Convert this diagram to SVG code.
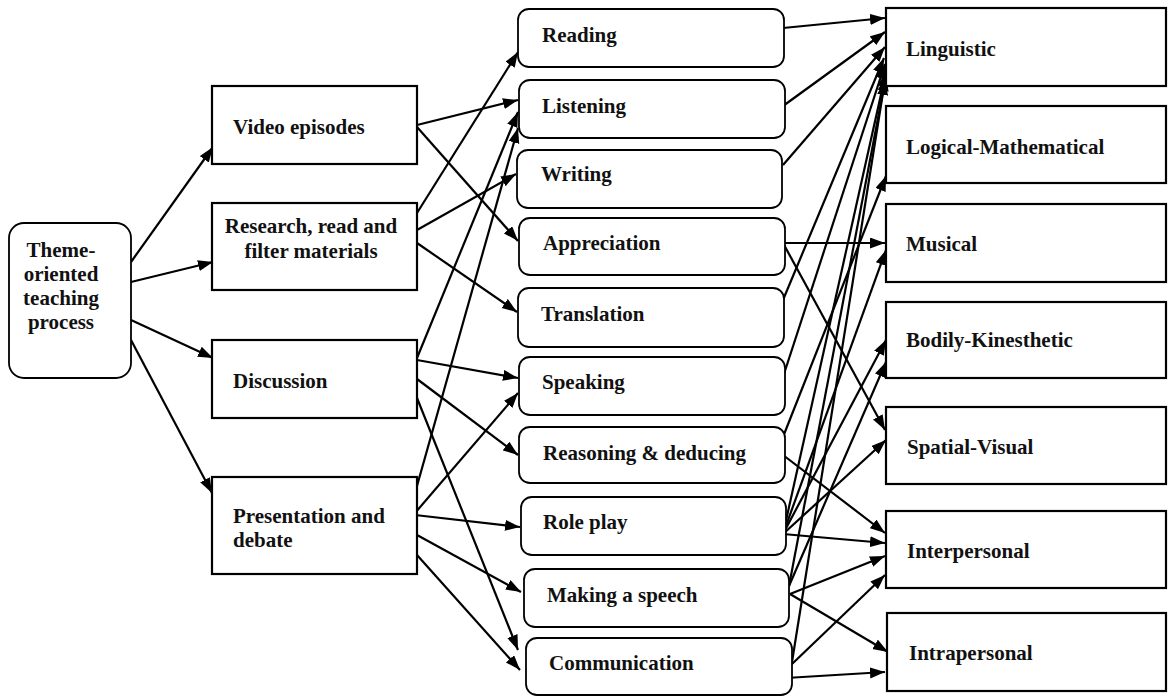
<svg xmlns="http://www.w3.org/2000/svg" width="1170" height="696" viewBox="0 0 1170 696">
<defs>
<marker id="ah" markerUnits="userSpaceOnUse" markerWidth="16" markerHeight="12" refX="15" refY="5.5" orient="auto">
<path d="M0,0 L15,5.5 L0,11 z" fill="#000"/>
</marker>
<style>
.t{font-family:"Liberation Serif","Times New Roman",serif;font-weight:bold;font-size:21px;fill:#111}
.c{text-anchor:middle}
.sq{fill:#fff;stroke:#000;stroke-width:2.2}
.rd{fill:#fff;stroke:#000;stroke-width:1.8}
.ln{stroke:#000;stroke-width:2.2;fill:none;marker-end:url(#ah)}
</style>
</defs>
<rect width="1170" height="696" fill="#fff"/>
<g id="connectors">
<line class="ln" x1="131" y1="262" x2="213" y2="147"/>
<line class="ln" x1="131" y1="282" x2="213" y2="262"/>
<line class="ln" x1="131" y1="320" x2="213" y2="358"/>
<line class="ln" x1="131" y1="340" x2="212" y2="493"/>
<line class="ln" x1="417" y1="125" x2="518" y2="100"/>
<line class="ln" x1="417" y1="127" x2="518" y2="241"/>
<line class="ln" x1="417" y1="213" x2="518" y2="52"/>
<line class="ln" x1="417" y1="230" x2="516" y2="174"/>
<line class="ln" x1="417" y1="243" x2="517" y2="312"/>
<line class="ln" x1="417" y1="358" x2="518" y2="112"/>
<line class="ln" x1="417" y1="360" x2="518" y2="378"/>
<line class="ln" x1="417" y1="379" x2="518" y2="455"/>
<line class="ln" x1="417" y1="398" x2="518" y2="650"/>
<line class="ln" x1="415" y1="493" x2="518" y2="128"/>
<line class="ln" x1="415" y1="513" x2="518" y2="393"/>
<line class="ln" x1="415" y1="515" x2="520" y2="527"/>
<line class="ln" x1="417" y1="535" x2="521" y2="592"/>
<line class="ln" x1="417" y1="555" x2="520" y2="670"/>
<line class="ln" x1="783" y1="28" x2="885" y2="18"/>
<line class="ln" x1="783" y1="106" x2="885" y2="32"/>
<line class="ln" x1="783" y1="165" x2="885" y2="47"/>
<line class="ln" x1="783" y1="243" x2="885" y2="243"/>
<line class="ln" x1="783" y1="243" x2="885" y2="430"/>
<line class="ln" x1="783" y1="300" x2="884" y2="58"/>
<line class="ln" x1="783" y1="377" x2="885" y2="64"/>
<line class="ln" x1="783" y1="437" x2="886" y2="176"/>
<line class="ln" x1="783" y1="455" x2="885" y2="533"/>
<line class="ln" x1="783" y1="534" x2="886" y2="72"/>
<line class="ln" x1="783" y1="534" x2="886" y2="250"/>
<line class="ln" x1="783" y1="534" x2="886" y2="340"/>
<line class="ln" x1="783" y1="534" x2="886" y2="440"/>
<line class="ln" x1="783" y1="534" x2="885" y2="543"/>
<line class="ln" x1="789" y1="586" x2="886" y2="76"/>
<line class="ln" x1="789" y1="586" x2="886" y2="362"/>
<line class="ln" x1="790" y1="594" x2="885" y2="556"/>
<line class="ln" x1="790" y1="594" x2="888" y2="652"/>
<line class="ln" x1="792" y1="662" x2="885" y2="80"/>
<line class="ln" x1="792" y1="664" x2="885" y2="575"/>
<line class="ln" x1="786" y1="678" x2="885" y2="672"/>
</g>
<g id="theme"><rect class="rd" x="9" y="223" width="122" height="155" rx="15"/>
<text class="t c" x="61" y="257">Theme-</text><text class="t c" x="61" y="281">oriented</text><text class="t c" x="61" y="305">teaching</text><text class="t c" x="61" y="329">process</text></g>
<g id="video"><rect class="sq" x="212" y="86" width="205" height="78"/><text class="t" x="233" y="134">Video episodes</text></g>
<g id="research"><rect class="sq" x="212" y="203" width="205" height="87"/><text class="t c" x="311" y="233">Research, read and</text><text class="t c" x="311" y="258">filter materials</text></g>
<g id="discussion"><rect class="sq" x="212" y="340" width="205" height="78"/><text class="t" x="233" y="388">Discussion</text></g>
<g id="presentation"><rect class="sq" x="212" y="477" width="205" height="97"/><text class="t" x="233" y="523">Presentation and</text><text class="t" x="233" y="547">debate</text></g>
<g id="reading"><rect class="rd" x="518" y="9" width="266" height="58" rx="11"/><text class="t" x="542" y="42">Reading</text></g>
<g id="listening"><rect class="rd" x="519" y="80" width="266" height="58" rx="11"/><text class="t" x="542" y="113">Listening</text></g>
<g id="writing"><rect class="rd" x="517" y="150" width="265" height="58" rx="11"/><text class="t" x="541" y="181">Writing</text></g>
<g id="appreciation"><rect class="rd" x="519" y="218" width="266" height="57" rx="11"/><text class="t" x="543" y="250">Appreciation</text></g>
<g id="translation"><rect class="rd" x="518" y="288" width="266" height="59" rx="11"/><text class="t" x="541" y="321">Translation</text></g>
<g id="speaking"><rect class="rd" x="519" y="357" width="266" height="58" rx="11"/><text class="t" x="542" y="389">Speaking</text></g>
<g id="reasoning"><rect class="rd" x="519" y="427" width="266" height="56" rx="11"/><text class="t" x="543" y="460">Reasoning &amp; deducing</text></g>
<g id="roleplay"><rect class="rd" x="521" y="497" width="265" height="58" rx="11"/><text class="t" x="543" y="529">Role play</text></g>
<g id="speech"><rect class="rd" x="524" y="569" width="265" height="58" rx="11"/><text class="t" x="547" y="602">Making a speech</text></g>
<g id="communication"><rect class="rd" x="526" y="638" width="266" height="57" rx="11"/><text class="t" x="549" y="670">Communication</text></g>
<g id="linguistic"><rect class="sq" x="886" y="8" width="280" height="78"/><text class="t" x="906" y="56">Linguistic</text></g>
<g id="logical"><rect class="sq" x="886" y="106" width="280" height="77"/><text class="t" x="906" y="154">Logical-Mathematical</text></g>
<g id="musical"><rect class="sq" x="886" y="204" width="280" height="78"/><text class="t" x="906" y="251">Musical</text></g>
<g id="bodily"><rect class="sq" x="886" y="302" width="280" height="76"/><text class="t" x="906" y="347">Bodily-Kinesthetic</text></g>
<g id="spatial"><rect class="sq" x="886" y="407" width="280" height="77"/><text class="t" x="907" y="454">Spatial-Visual</text></g>
<g id="interpersonal"><rect class="sq" x="886" y="511" width="280" height="77"/><text class="t" x="907" y="558">Interpersonal</text></g>
<g id="intrapersonal"><rect class="sq" x="887" y="613" width="279" height="78"/><text class="t" x="909" y="660">Intrapersonal</text></g>
</svg>
